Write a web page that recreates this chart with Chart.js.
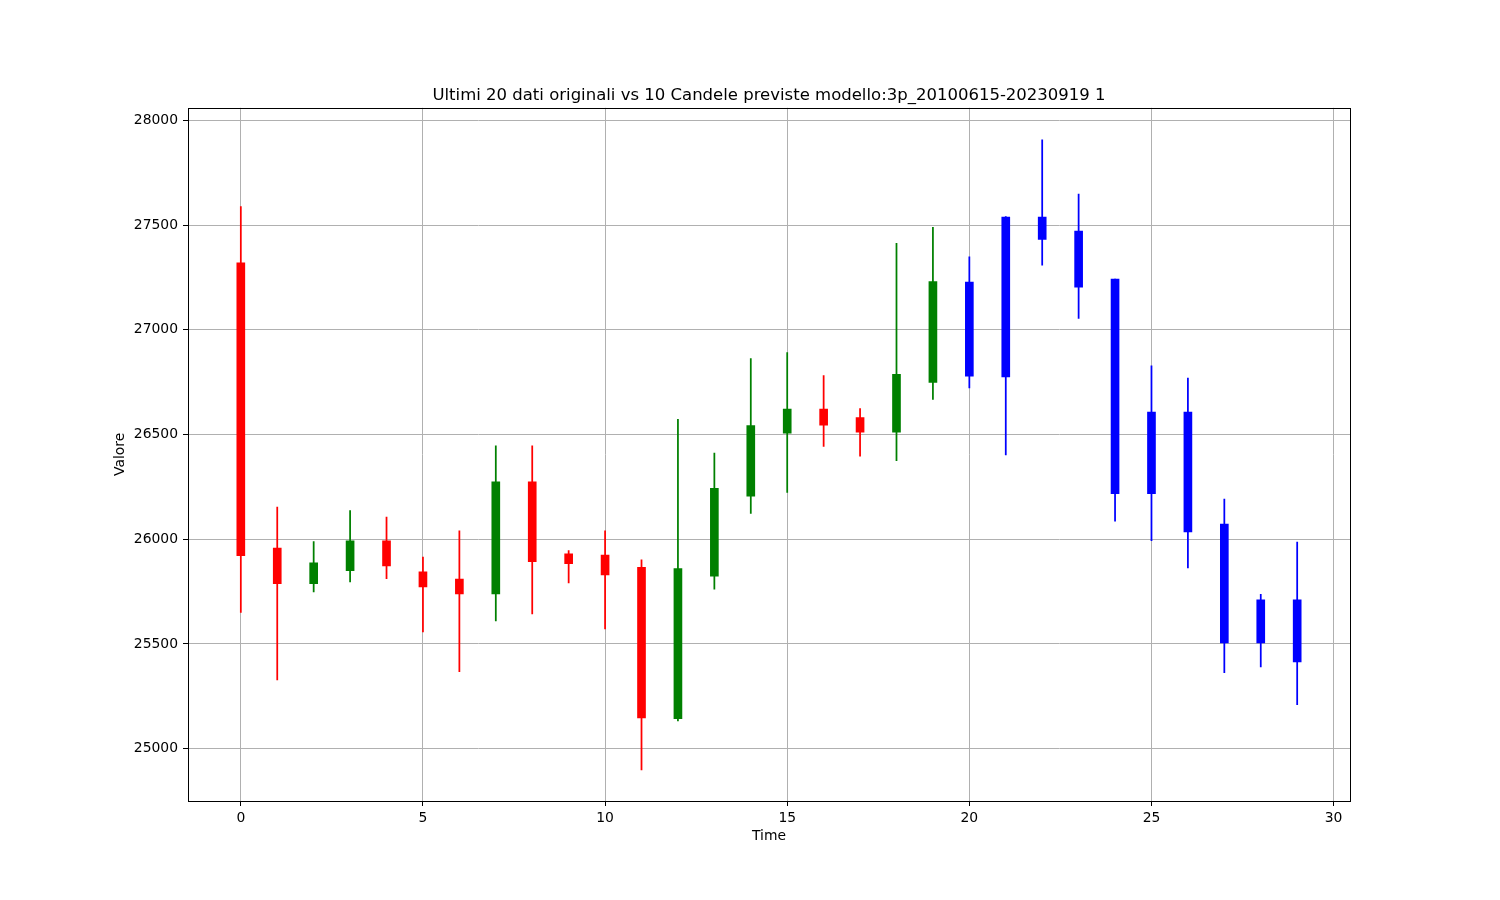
<!DOCTYPE html>
<html>
<head>
<meta charset="utf-8">
<script src="https://cdn.jsdelivr.net/npm/chart.js@4/dist/chart.umd.min.js"></script>
<style>
  body { margin: 0; background: #fff; }
  #wrap { width: 1500px; height: 900px; }
</style>
</head>
<body>
<div id="wrap"><canvas id="candleChart" width="1500" height="900"></canvas></div>
<script>
// dati: 20 candele originali + 10 previste
const times = [0,1,2,3,4,5,6,7,8,9,10,11,12,13,14,15,16,17,18,19,20,21,22,23,24,25,26,27,28,29];
const openVals  = [27320,25958,25788,25850,25992,25844,25810,25739,26274,25930,25924,25866,25143,25824,26206,26506,26621,26581,26511,26749,
                   26779,26775,27538,27471,27242,26218,26607,26072,25505,25710];
const highVals  = [27588,26154,25989,26137,26106,25915,26040,26446,26446,25946,26040,25902,26572,26411,26862,26891,26781,26624,27413,27489,
                   27348,27540,27907,27648,27242,26828,26769,26192,25737,25986];
const lowVals   = [25650,25328,25748,25796,25812,25557,25368,25610,25643,25791,25572,24898,25132,25762,26123,26224,26443,26396,26375,26668,
                   26722,26402,27308,27054,26086,25993,25863,25363,25390,25210];
const closeVals = [25922,25788,25887,25992,25872,25772,25739,26274,25893,25883,25830,25147,25860,26243,26543,26621,26545,26511,26787,27230,
                   27228,27538,27432,27204,26218,26607,26035,25505,25710,25414];
const nOriginal = 20;

const xTicks = [0, 5, 10, 15, 20, 25, 30];
const yTicks = [25000, 25500, 26000, 26500, 27000, 27500, 28000];

const candleColor = (i) => {
  if (i >= nOriginal) return '#0000ff';
  return closeVals[i] >= openVals[i] ? '#008000' : '#ff0000';
};
const colors = times.map((t, i) => candleColor(i));

// bordo nero su tutti i lati, come matplotlib
const frame = {
  id: 'frame',
  afterDatasetsDraw(chart) {
    const a = chart.chartArea;
    const ctx = chart.ctx;
    ctx.save();
    ctx.strokeStyle = '#000';
    ctx.lineWidth = 1;
    ctx.strokeRect(Math.round(a.left) + 0.5, Math.round(a.top) + 0.5, Math.round(a.right - a.left), Math.round(a.bottom - a.top));
    ctx.restore();
  }
};

const ctx = document.getElementById('candleChart').getContext('2d');
Chart.defaults.font.family = "'DejaVu Sans', sans-serif";
Chart.defaults.color = '#000';

const chart = new Chart(ctx, {
  type: 'bar',
  data: {
    datasets: [
      {
        label: 'wick',
        data: times.map((t, i) => ({ x: t, y: [lowVals[i], highVals[i]] })),
        backgroundColor: colors,
        borderWidth: 0,
        barThickness: 1.1,
        grouped: false,
        order: 2
      },
      {
        label: 'body',
        data: times.map((t, i) => ({ x: t, y: [openVals[i], closeVals[i]] })),
        backgroundColor: colors,
        borderWidth: 0,
        barThickness: 8,
        grouped: false,
        order: 1
      }
    ]
  },
  options: {
    responsive: false,
    devicePixelRatio: 1,
    animation: false,
    layout: { padding: { left: 0, right: 150, top: 0, bottom: 0 } },
    plugins: {
      legend: { display: false },
      tooltip: { enabled: false },
      title: {
        display: true,
        fullSize: false,
        text: 'Ultimi 20 dati originali vs 10 Candele previste modello:3p_20100615-20230919 1',
        font: { size: 16.5, weight: 'normal' },
        color: '#000',
        padding: { top: 86, bottom: 2 }
      }
    },
    scales: {
      x: {
        type: 'linear',
        min: -1.45,
        max: 30.45,
        offset: false,
        afterBuildTicks: (scale) => { scale.ticks = xTicks.map(v => ({ value: v })); },
        afterFit: (scale) => { scale.height = 99; },
        grid: { offset: false, color: '#b0b0b0', lineWidth: 1, tickColor: '#000', tickLength: 5, tickWidth: 1 },
        border: { display: false },
        ticks: { font: { size: 13.9 }, color: '#000', padding: 4, maxRotation: 0, callback: (v) => String(v) },
        title: { display: true, text: 'Time', font: { size: 13.9 }, color: '#000', padding: { top: 0, bottom: 55 } }
      },
      y: {
        type: 'linear',
        min: 24750,
        max: 28060,
        afterBuildTicks: (scale) => { scale.ticks = yTicks.map(v => ({ value: v })); },
        afterFit: (scale) => { scale.width = 188; },
        grid: { color: '#b0b0b0', lineWidth: 1, tickColor: '#000', tickLength: 5, tickWidth: 1 },
        border: { display: false },
        ticks: { font: { size: 13.9 }, color: '#000', padding: 5, callback: (v) => String(v) },
        title: { display: true, text: 'Valore', font: { size: 13.9 }, color: '#000', padding: { top: 112, bottom: 0 } }
      }
    }
  },
  plugins: [frame]
});
</script>
</body>
</html>
